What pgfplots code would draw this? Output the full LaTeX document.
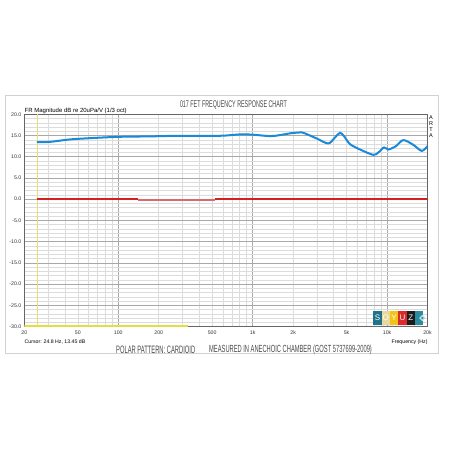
\documentclass[border=0pt]{standalone}
\usepackage{fontspec}
\setmainfont{Liberation Sans}
\usepackage{pgfplots}
\pgfplotsset{compat=1.18}
\definecolor{curveblue}{HTML}{1A8AD8}
\definecolor{gridminor}{HTML}{DCDCDC}
\definecolor{gridmajor}{HTML}{A8A8A8}
\definecolor{cursoryellow}{HTML}{E6E070}
\definecolor{baseyellow}{HTML}{E2E040}
\definecolor{cZeroA}{HTML}{D42020}
\definecolor{cZeroB}{HTML}{D86A6A}
\definecolor{txtgray}{HTML}{4A4A4A}
\definecolor{lteal}{HTML}{1F7388}
\definecolor{lbeige}{HTML}{E9D89C}
\definecolor{lyellow}{HTML}{F2C318}
\definecolor{lred}{HTML}{DC2A2A}
\definecolor{lblack}{HTML}{1C1C1C}
\definecolor{lteal2}{HTML}{2A8C9C}
\begin{document}
\begin{tikzpicture}[x=1pt,y=1pt]
\path[use as bounding box, fill=white] (0,0) rectangle (450,450);
\draw[gray!35, line width=0.7pt] (5,97) rectangle (438,355);
\begin{axis}[
  at={(24.3pt,123.5pt)}, anchor=south west,
  scale only axis, width=403.2pt, height=212.2pt,
  xmode=log, xmin=20, xmax=20000, ymin=-30, ymax=20,
  xtick={100,1000,10000}, xticklabels={100,1k,10k},
  extra x ticks={20,50,200,500,2000,5000,20000},
  extra x tick labels={20,50,200,500,2k,5k,20k},
  extra x tick style={grid=none},
  minor xtick={30,40,50,60,70,80,90,200,300,400,500,600,700,800,900,2000,3000,4000,5000,6000,7000,8000,9000},
  ytick={-30,-25,...,20},
  minor ytick={-29,-28,...,19},
  xmajorgrids, xminorgrids, ymajorgrids, yminorgrids,
  major grid style={gridmajor, line width=0.5pt},
  minor grid style={gridminor, line width=0.5pt},
  major tick length=0pt, minor tick length=0pt,
  axis line style={gray!80!black, line width=0.5pt},
  tick label style={font=\fontsize{5.2}{6}\selectfont, text=black!80},
  /pgf/number format/assume math mode=true,
  yticklabel={\pgfmathprintnumber[fixed,precision=1,zerofill]{\tick}},
  yticklabel style={xshift=0.5pt},
  xticklabel style={yshift=-0.5pt},
  log ticks with fixed point,
]
\addplot[cursoryellow, line width=0.7pt] coordinates {(24.8,-30) (24.8,20)};
\addplot[baseyellow, line width=1.8pt] coordinates {(20,-29.85) (329,-29.85)};
\addplot[color=cZeroB, line width=1.3pt] coordinates {(140,-0.2) (525,-0.2)};
\addplot[color=cZeroB, line width=1.3pt] coordinates {(8000,-0.15) (9140,-0.15)};
\addplot[color=cZeroA, line width=1.1pt] coordinates {(24.8,0.05) (140,0.05)};
\addplot[color=cZeroA, line width=1.1pt] coordinates {(525,0.05) (20000,0.05)};
\addplot[curveblue, line width=2pt, smooth, tension=0.5] coordinates {
(24.8,13.45) (31,13.5) (43.8,14.08) (69.1,14.46) (103,14.7) (172,14.8)
(288,14.94) (572,14.94) (805,15.26) (1000,15.2) (1346,14.86) (1598,15.1)
(1952,15.57) (2318,15.73) (2453,15.5) (2997,14.3) (3655,13.13) (4100,14.55)
(4467,15.64) (4783,14.86) (5302,12.97) (6291,11.71) (7903,10.44) (8610,11.0)
(9493,12.19) (10217,11.71) (11656,12.5) (13213,13.92) (15680,12.8) (18110,11.38)
(20000,12.5)};
\end{axis}
% texts
\node[anchor=base west, inner sep=0, font=\fontsize{6}{7}\selectfont] at (24.5,337.5) {FR Magnitude dB re 20uPa/V (1/3 oct)};
\node[anchor=center, inner sep=0, text=txtgray] at (233.5,345) {\resizebox{107pt}{6.8pt}{\fontsize{10}{10}\selectfont 017 FET FREQUENCY RESPONSE CHART}};
\foreach \l/\yy in {A/332.7,R/326.5,T/320.2,A/314}
  \node[anchor=center, inner sep=0, font=\fontsize{5.5}{6}\selectfont] at (431,\yy) {\l};
\node[anchor=west, inner sep=0, font=\fontsize{5.2}{6}\selectfont] at (24.5,108.3) {Cursor: 24.8 Hz, 13.45 dB};
\node[anchor=east, inner sep=0, font=\fontsize{5.2}{6}\selectfont] at (427.7,107.7) {Frequency (Hz)};
\node[anchor=west, inner sep=0, text=txtgray] at (116,100) {\resizebox{79pt}{7.5pt}{\fontsize{10}{10}\selectfont POLAR PATTERN: CARDIOID}};
\node[anchor=west, inner sep=0, text=txtgray] at (209,100) {\resizebox{162.7pt}{7.5pt}{\fontsize{10}{10}\selectfont MEASURED IN ANECHOIC CHAMBER (GOST 5737699-2009)}};
% logo
\foreach \i/\c/\l in {0/lteal/S,1/lbeige/O,2/lyellow/Y,3/lred/U,4/lblack/Z} {
  \fill[\c] (373.3+\i*8.33,125.3) rectangle ++(8.33,13.4);
  \node[text=white, inner sep=0, font=\fontsize{8}{8}\selectfont] at (373.3+\i*8.33+4.165,132) {\l};
}
\fill[lteal2] (373.3+5*8.33,125.3) rectangle ++(8.33,13.4);
\fill[white!70!lteal2] (377.5+5*8.33,132) -- ++(3.2,3.2) -- ++(3.2,-3.2) -- ++(-3.2,-3.2) -- cycle;
\fill[lteal2] (379.5+5*8.33,132) -- ++(1.2,1.2) -- ++(1.2,-1.2) -- ++(-1.2,-1.2) -- cycle;
\node[anchor=center, inner sep=0, text=gray] at (398.3,123.2) {\resizebox{48pt}{1.4pt}{\fontsize{5}{5}\selectfont HANDMADE MICROPHONES}};
\end{tikzpicture}
\end{document}
